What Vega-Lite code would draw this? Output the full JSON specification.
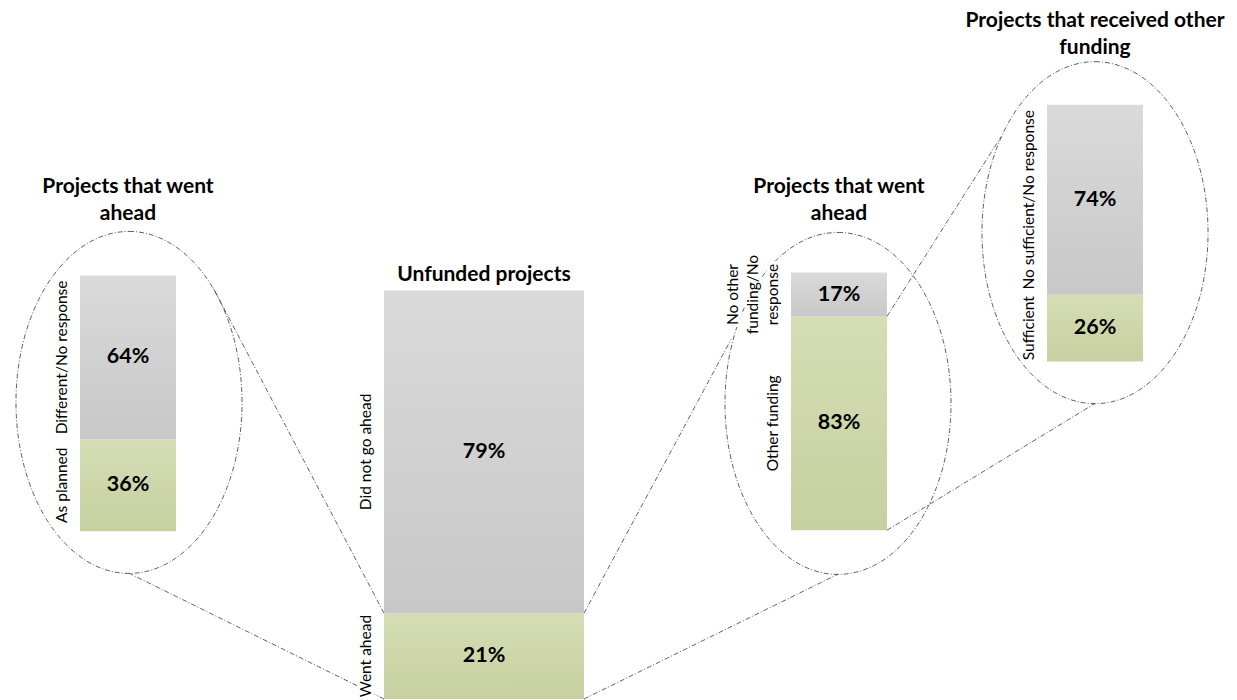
{
  "$schema": "https://vega.github.io/schema/vega-lite/v6.json",
  "width": 1237,
  "height": 700,
  "autosize": {"type": "fit", "contains": "padding"},
  "padding": 0,
  "background": "white",
  "config": {"view": {"stroke": null}},
  "params": [
    {
      "name": "layout",
      "value": {
        "went_ahead_plan": {"x0": 80, "x1": 176, "base": 532, "h": 256, "ty": 197, "cx": 129, "cy": 403, "ry": 171, "tx": 213, "tyl": 288, "zoom": []},
        "unfunded": {"x0": 384, "x1": 584, "base": 700, "h": 409, "ty": 285, "zoom": ["went_ahead_plan", "went_ahead_funding"]},
        "went_ahead_funding": {"x0": 791, "x1": 887, "base": 531, "h": 258, "ty": 197, "cx": 838, "cy": 404, "ry": 171, "tx": 731, "tyl": 340, "zoom": ["other_funding"]},
        "other_funding": {"x0": 1047, "x1": 1143, "base": 362, "h": 257, "ty": 31, "cx": 1095, "cy": 233, "ry": 171, "tx": 1001, "tyl": 137, "zoom": []}
      }
    }
  ],
  "datasets": {
    "segments": [
      {"panel": "went_ahead_plan", "segment": "As planned", "value": 36, "outcome": "yes"},
      {"panel": "went_ahead_plan", "segment": "Different/No response", "value": 64, "outcome": "no"},
      {"panel": "unfunded", "segment": "Went ahead", "value": 21, "outcome": "yes"},
      {"panel": "unfunded", "segment": "Did not go ahead", "value": 79, "outcome": "no"},
      {"panel": "went_ahead_funding", "segment": "Other funding", "value": 83, "outcome": "yes"},
      {"panel": "went_ahead_funding", "segment": "No other\nfunding/No\nresponse", "value": 17, "outcome": "no"},
      {"panel": "other_funding", "segment": "Sufficient", "value": 26, "outcome": "yes"},
      {"panel": "other_funding", "segment": "No sufficient/No response", "value": 74, "outcome": "no"}
    ],
    "panels": [
      {"panel": "went_ahead_plan", "title": "Projects that went\nahead"},
      {"panel": "unfunded", "title": "Unfunded projects"},
      {"panel": "went_ahead_funding", "title": "Projects that went\nahead"},
      {"panel": "other_funding", "title": "Projects that received other\nfunding"}
    ]
  },
  "layer": [
    {
      "data": {"name": "panels"},
      "transform": [
        {"filter": "layout[datum.panel].ry > 0"},
        {"calculate": "layout[datum.panel].cx", "as": "cx"},
        {"calculate": "layout[datum.panel].cy", "as": "cy"}
      ],
      "mark": {
        "type": "point",
        "shape": "M0,-1C0.365,-1,0.661,-0.552,0.661,0C0.661,0.552,0.365,1,0,1C-0.365,1,-0.661,0.552,-0.661,0C-0.661,-0.552,-0.365,-1,0,-1Z",
        "size": 116964,
        "filled": false,
        "opacity": 1,
        "stroke": "#3a3a3a",
        "strokeWidth": 0.8,
        "strokeDash": [5, 2, 1, 2]
      },
      "encoding": {
        "x": {"field": "cx", "type": "quantitative", "scale": {"domain": [0, 1237], "nice": false, "zero": false}, "axis": null},
        "y": {"field": "cy", "type": "quantitative", "scale": {"domain": [0, 700], "nice": false, "zero": false, "reverse": true}, "axis": null}
      }
    },
    {
      "data": {"name": "segments"},
      "transform": [
        {"stack": "value", "groupby": ["panel"], "sort": [{"field": "outcome", "order": "descending"}], "as": ["v0", "v1"]},
        {"calculate": "layout[datum.panel].x0", "as": "xa"},
        {"calculate": "layout[datum.panel].x1", "as": "xb"},
        {"calculate": "layout[datum.panel].base - datum.v0 * layout[datum.panel].h / 100", "as": "ya"},
        {"calculate": "layout[datum.panel].base - datum.v1 * layout[datum.panel].h / 100", "as": "yb"},
        {"calculate": "(datum.xa + datum.xb) / 2", "as": "xm"},
        {"calculate": "(datum.ya + datum.yb) / 2", "as": "ym"},
        {"calculate": "datum.xa - 10 - (length(split(datum.segment, '\\n')) - 1) * 20", "as": "xl"},
        {"calculate": "format(datum.value, 'd') + '%'", "as": "pct"}
      ],
      "layer": [
        {
          "transform": [
            {"filter": "datum.outcome === 'yes' && length(layout[datum.panel].zoom) > 0"},
            {"calculate": "layout[datum.panel].zoom", "as": "target"},
            {"flatten": ["target"]},
            {"calculate": "['top', 'bottom']", "as": "end"},
            {"flatten": ["end"]},
            {"calculate": "layout[datum.target].cx < datum.xa ? datum.xa : datum.xb", "as": "lx"},
            {"calculate": "datum.end === 'top' ? datum.yb : datum.ya", "as": "ly"},
            {"calculate": "datum.end === 'top' ? layout[datum.target].tx : layout[datum.target].cx", "as": "lx2"},
            {"calculate": "datum.end === 'top' ? layout[datum.target].tyl : layout[datum.target].cy + layout[datum.target].ry", "as": "ly2"}
          ],
          "mark": {"type": "rule", "stroke": "#3a3a3a", "strokeWidth": 0.8, "strokeDash": [5, 2, 1, 2]},
          "encoding": {
            "x": {"field": "lx", "type": "quantitative"},
            "y": {"field": "ly", "type": "quantitative"},
            "x2": {"field": "lx2"},
            "y2": {"field": "ly2"}
          }
        },
        {
          "mark": {"type": "rect"},
          "encoding": {
            "x": {"field": "xa", "type": "quantitative"},
            "x2": {"field": "xb"},
            "y": {"field": "ya", "type": "quantitative"},
            "y2": {"field": "yb"},
            "color": {
              "condition": {
                "test": "datum.outcome === 'yes'",
                "value": {"gradient": "linear", "x1": 0, "y1": 0, "x2": 0, "y2": 1, "stops": [{"offset": 0, "color": "#d5ddb5"}, {"offset": 1, "color": "#c7d09f"}]}
              },
              "value": {"gradient": "linear", "x1": 0, "y1": 0, "x2": 0, "y2": 1, "stops": [{"offset": 0, "color": "#dadada"}, {"offset": 1, "color": "#c8c8c8"}]}
            }
          }
        },
        {
          "mark": {"type": "text", "font": "Lato", "fontSize": 15.5, "angle": 270, "align": "center", "baseline": "bottom", "lineBreak": "\n", "lineHeight": 20, "fill": "white", "stroke": "white", "strokeWidth": 7, "strokeJoin": "round"},
          "encoding": {
            "x": {"field": "xl", "type": "quantitative"},
            "y": {"field": "ym", "type": "quantitative"},
            "text": {"field": "segment", "type": "nominal"}
          }
        },
        {
          "mark": {"type": "text", "font": "Lato", "fontSize": 15.5, "angle": 270, "align": "center", "baseline": "bottom", "lineBreak": "\n", "lineHeight": 20, "color": "#000000"},
          "encoding": {
            "x": {"field": "xl", "type": "quantitative"},
            "y": {"field": "ym", "type": "quantitative"},
            "text": {"field": "segment", "type": "nominal"}
          }
        },
        {
          "mark": {"type": "text", "font": "Lato", "fontSize": 21.5, "fontWeight": "bold", "align": "center", "baseline": "middle", "color": "#000000"},
          "encoding": {
            "x": {"field": "xm", "type": "quantitative"},
            "y": {"field": "ym", "type": "quantitative"},
            "text": {"field": "pct", "type": "nominal"}
          }
        }
      ]
    },
    {
      "data": {"name": "panels"},
      "transform": [
        {"calculate": "(layout[datum.panel].x0 + layout[datum.panel].x1) / 2", "as": "tx"},
        {"calculate": "layout[datum.panel].ty", "as": "ty"}
      ],
      "mark": {"type": "text", "font": "Lato", "fontSize": 21, "fontWeight": "bold", "align": "center", "baseline": "bottom", "lineBreak": "\n", "lineHeight": 27, "color": "#000000"},
      "encoding": {
        "x": {"field": "tx", "type": "quantitative"},
        "y": {"field": "ty", "type": "quantitative"},
        "text": {"field": "title", "type": "nominal"}
      }
    }
  ]
}
